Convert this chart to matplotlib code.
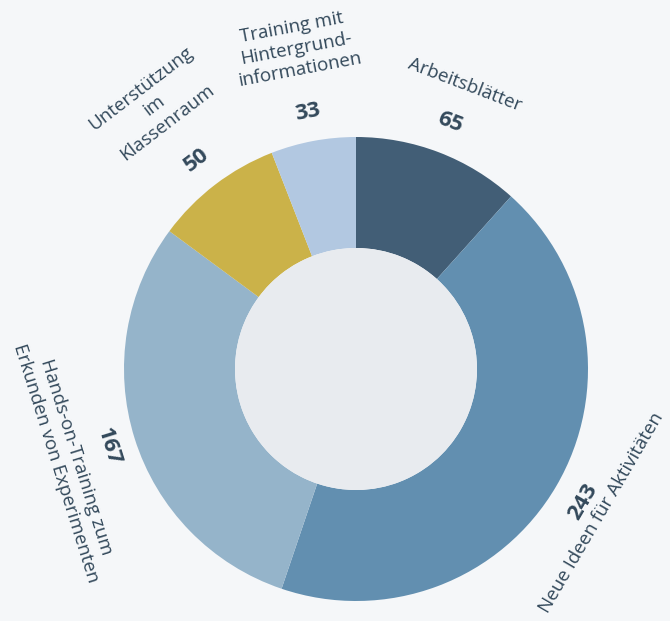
import matplotlib
matplotlib.use("Agg")
import matplotlib.pyplot as plt
import numpy as np
from matplotlib.patches import Circle

categories = ["Arbeitsblätter", "Neue Ideen für Aktivitäten",
              "Hands-on-Training zum\nErkunden von Experimenten",
              "Unterstützung\nim\nKlassenraum",
              "Training mit\nHintergrund-\ninformationen"]
values = [65, 243, 167, 50, 33]
colors = ["#425e76", "#628fb0", "#95b4ca", "#cbb249", "#b2c8e1"]
label_r = [304, 284, 304, 332, 326]
number_r = [264, 263, 259, 263, 261]

W, H = 670, 621
fig = plt.figure(figsize=(W / 100, H / 100), dpi=100, facecolor="#f5f7f9")
ax = fig.add_axes([0, 0, 1, 1])
ax.set_facecolor("#f5f7f9")

cx, cy = 356, H - 369
R, r_in = 232, 121
ax.pie(values, colors=colors, startangle=90, counterclock=False,
       center=(cx, cy), radius=R, wedgeprops=dict(width=R - r_in, linewidth=0))
ax.add_patch(Circle((cx, cy), r_in, facecolor="#e8ebef", edgecolor="none", zorder=5))
ax.set_xlim(0, W)
ax.set_ylim(0, H)
ax.set_aspect("equal")
ax.axis("off")

txt_color = "#33495b"
total = sum(values)
cum = 0
for cat, v, lr, nr in zip(categories, values, label_r, number_r):
    mid = cum + v / 2
    cum += v
    ang = 90 - mid / total * 360
    a = np.deg2rad(ang)
    rot = ang - 90
    if np.sin(a) < 0:
        rot += 180
    rot = (rot + 180) % 360 - 180
    ax.text(cx + nr * np.cos(a), cy + nr * np.sin(a), str(v), rotation=rot,
            rotation_mode="anchor", ha="center", va="center", fontsize=16,
            fontweight="bold", color=txt_color, family="Open Sans")
    ax.text(cx + lr * np.cos(a), cy + lr * np.sin(a), cat, rotation=rot,
            rotation_mode="anchor", ha="center", va="center", fontsize=13.5,
            color=txt_color, family="Open Sans", multialignment="center",
            linespacing=1.25)

fig.savefig("out.png", dpi=100, facecolor=fig.get_facecolor())
